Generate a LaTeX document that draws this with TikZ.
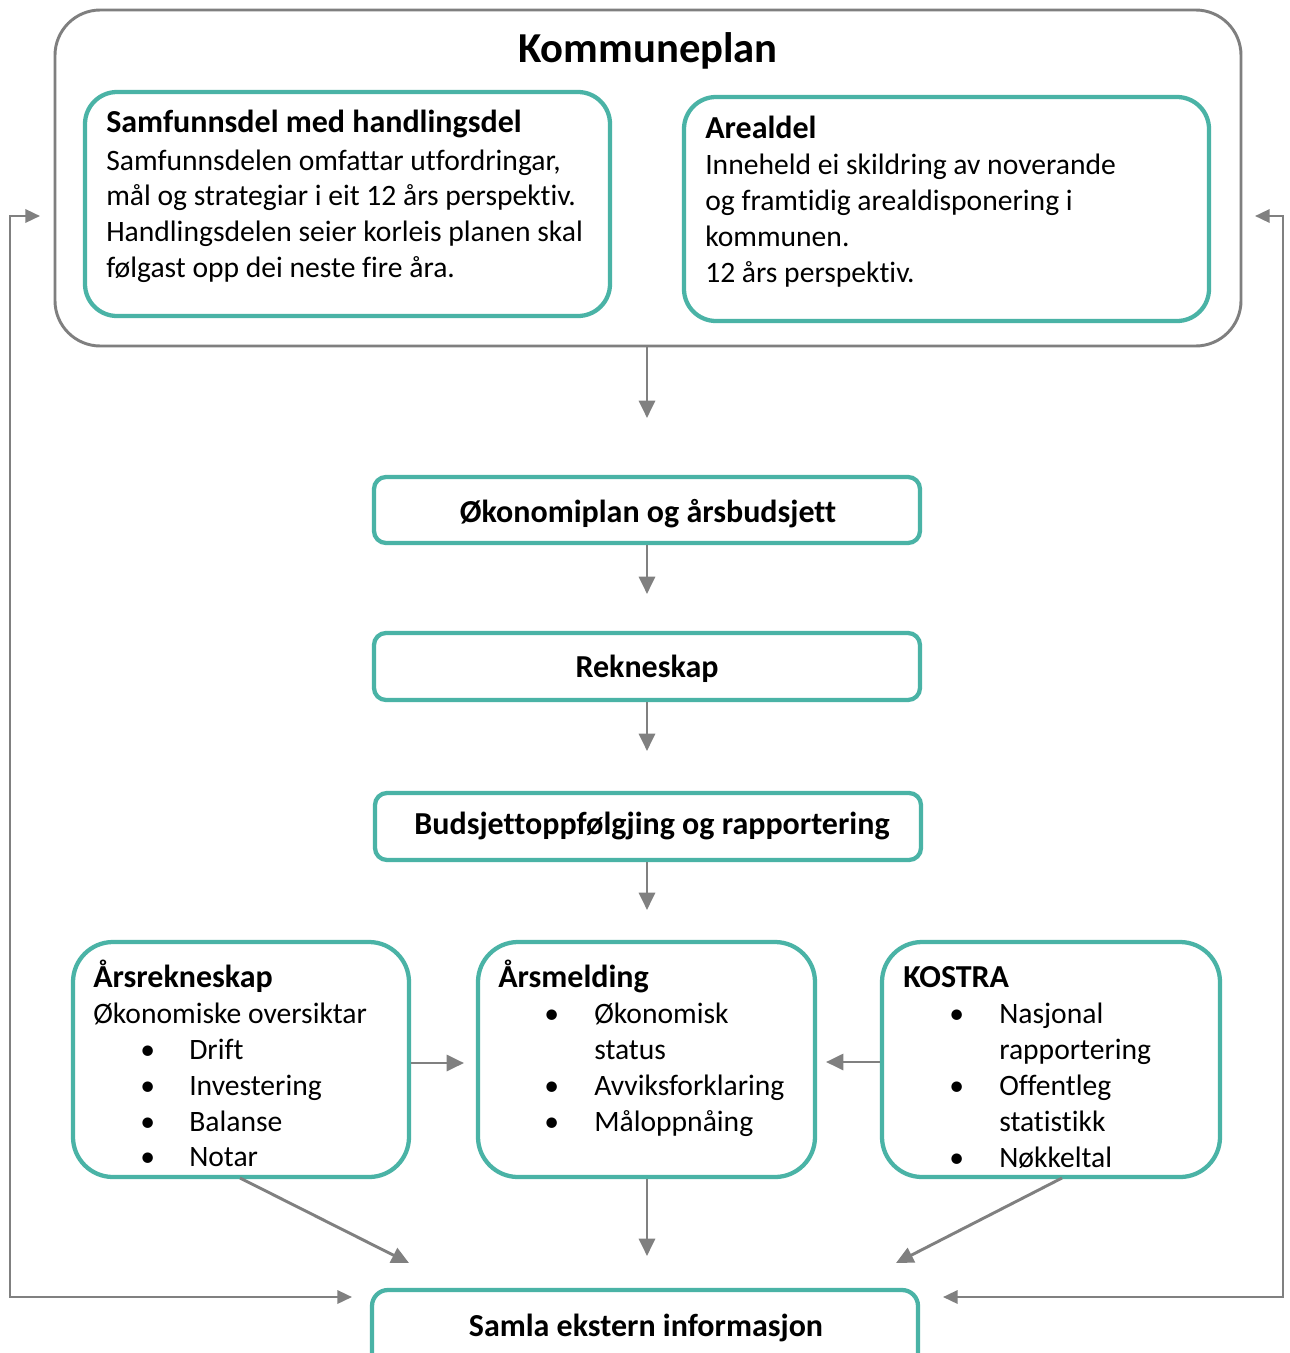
\documentclass[tikz,border=0pt]{standalone}
\usepackage{fontspec}
\setmainfont{Carlito}[Ligatures={NoCommon,NoContextual,NoRare}]
\usetikzlibrary{arrows.meta,fit}
\definecolor{tealc}{HTML}{4AB3A6}
\definecolor{grayc}{HTML}{7F7F7F}
\definecolor{arrc}{HTML}{808080}
\newcommand{\bodyfont}{\fontsize{22.2}{27}\selectfont}
\newcommand{\headfont}{\fontsize{24}{28}\selectfont\bfseries}
\newcommand{\titlefont}{\fontsize{32}{37}\selectfont\bfseries}
\begin{document}
\begin{tikzpicture}[x=0.75pt,y=-0.75pt,
  tealbox/.style={draw=tealc, line width=3.2pt, inner sep=0pt},
  outerbox/.style={draw=grayc, line width=2.2pt, rounded corners=34pt, inner sep=0pt},
  arr/.style={draw=arrc, line width=2.2pt, -{Triangle[length=13pt,width=12pt]}},
  darr/.style={draw=arrc, line width=1.8pt, {Triangle[length=11pt,width=10pt]}-{Triangle[length=11pt,width=10pt]}},
  txt/.style={anchor=base west, inner sep=0pt, font=\bodyfont},
  hd/.style={anchor=base west, inner sep=0pt, font=\headfont},
  bartxt/.style={inner sep=0pt, font=\headfont},
  bul/.style={anchor=base west, inner sep=0pt, font=\bodyfont}
]
\useasboundingbox (0,0) rectangle (1289,1353);
\fill[white] (0,0) rectangle (1289,1353);

% outer Kommuneplan
\node[outerbox, fit={(55,10) (1241,346)}] (outer) {};
\node[anchor=base, inner sep=0pt, font=\titlefont] (title) at (648,62) {Kommuneplan};

% Samfunnsdel
\node[tealbox, rounded corners=24pt, fit={(85,92) (610,316)}] (samf) {};
\node[hd] (samfh) at (106,132) {Samfunnsdel med handlingsdel};
\node[txt] (samf1) at (106,170) {Samfunnsdelen omfattar utfordringar,};
\node[txt] (samf2) at (106,205) {mål og strategiar i eit 12 års perspektiv.};
\node[txt] (samf3) at (106,241) {Handlingsdelen seier korleis planen skal};
\node[txt] (samf4) at (106,277) {følgast opp dei neste fire åra.};

% Arealdel
\node[tealbox, rounded corners=24pt, fit={(684,97) (1209,321)}] (areal) {};
\node[hd] (arealh) at (705,138) {Arealdel};
\node[txt] (areal1) at (705,174) {Inneheld ei skildring av noverande};
\node[txt] (areal2) at (705,210) {og framtidig arealdisponering i};
\node[txt] (areal3) at (705,246) {kommunen.};
\node[txt] (areal4) at (705,282) {12 års perspektiv.};

% middle bars
\node[tealbox, rounded corners=9pt, fit={(374,477) (920,543)}] (okon) {};
\node[bartxt] (okont) at (648,514) {Økonomiplan og årsbudsjett};
\node[tealbox, rounded corners=9pt, fit={(374,633) (920,700)}] (rek) {};
\node[bartxt] (rekt) at (647,669) {Rekneskap};
\node[tealbox, rounded corners=9pt, fit={(375,793) (921,860)}] (bud) {};
\node[bartxt] (budt) at (652,826) {Budsjettoppfølgjing og rapportering};

% bottom three
\node[tealbox, rounded corners=30pt, fit={(73,942) (409,1177)}] (arsrek) {};
\node[hd] (arsrekh) at (93,987) {Årsrekneskap};
\node[txt] (arsrek0) at (93,1023) {Økonomiske oversiktar};
\node[bul] (ab1) at (140,1059) {•};
\node[txt] (arsrek1) at (189,1059) {Drift};
\node[bul] (ab2) at (140,1095) {•};
\node[txt] (arsrek2) at (189,1095) {Investering};
\node[bul] (ab3) at (140,1131) {•};
\node[txt] (arsrek3) at (189,1131) {Balanse};
\node[bul] (ab4) at (140,1166) {•};
\node[txt] (arsrek4) at (189,1166) {Notar};

\node[tealbox, rounded corners=30pt, fit={(478,942) (815,1177)}] (arsm) {};
\node[hd] (arsmh) at (498,987) {Årsmelding};
\node[bul] (mb1) at (544,1023) {•};
\node[txt] (arsm1) at (594,1023) {Økonomisk};
\node[txt] (arsm2) at (594,1059) {status};
\node[bul] (mb2) at (544,1095) {•};
\node[txt] (arsm3) at (594,1095) {Avviksforklaring};
\node[bul] (mb3) at (544,1131) {•};
\node[txt] (arsm4) at (594,1131) {Måloppnåing};

\node[tealbox, rounded corners=30pt, fit={(882,942) (1220,1177)}] (kostra) {};
\node[hd] (kostrah) at (903,987) {KOSTRA};
\node[bul] (kb1) at (949,1023) {•};
\node[txt] (kostra1) at (999,1023) {Nasjonal};
\node[txt] (kostra2) at (999,1059) {rapportering};
\node[bul] (kb2) at (949,1095) {•};
\node[txt] (kostra3) at (999,1095) {Offentleg};
\node[txt] (kostra4) at (999,1131) {statistikk};
\node[bul] (kb3) at (949,1167) {•};
\node[txt] (kostra5) at (999,1167) {Nøkkeltal};

% Samla
\node[tealbox, rounded corners=12pt, fit={(372,1290) (918,1368)}] (samla) {};
\node[bartxt] (samlat) at (646,1328) {Samla ekstern informasjon};

% connectors
\coordinate (t1) at (647,418);
\coordinate (t2) at (647,594);
\coordinate (t3) at (647,751);
\coordinate (t4) at (647,910);
\coordinate (t5) at (464,1063);
\coordinate (t6) at (826,1062);
\coordinate (t7) at (409,1263);
\coordinate (t8) at (647,1256);
\coordinate (t9) at (896,1263);
\draw[arr] (outer.south -| t1) -- (t1);
\draw[arr] (okon.south -| t2) -- (t2);
\draw[arr] (rek.south -| t3) -- (t3);
\draw[arr] (bud.south -| t4) -- (t4);
\draw[arr] (arsrek.east |- t5) -- (t5);
\draw[arr] (kostra.west |- t6) -- (t6);
\coordinate (s7) at (240,1178);
\coordinate (s9) at (1062,1178);
\draw[arr] (s7) -- (t7);
\draw[arr] (arsm.south -| t8) -- (t8);
\draw[arr] (s9) -- (t9);

% feedback loops
\coordinate (la) at (40,216);
\coordinate (lb) at (352,1297);
\coordinate (ra) at (1255,216);
\coordinate (rb) at (943,1297);
\draw[darr] (la) -- (10,216) -- (10,1297) -- (lb);
\draw[darr] (ra) -- (1283,216) -- (1283,1297) -- (rb);
\end{tikzpicture}
\end{document}
